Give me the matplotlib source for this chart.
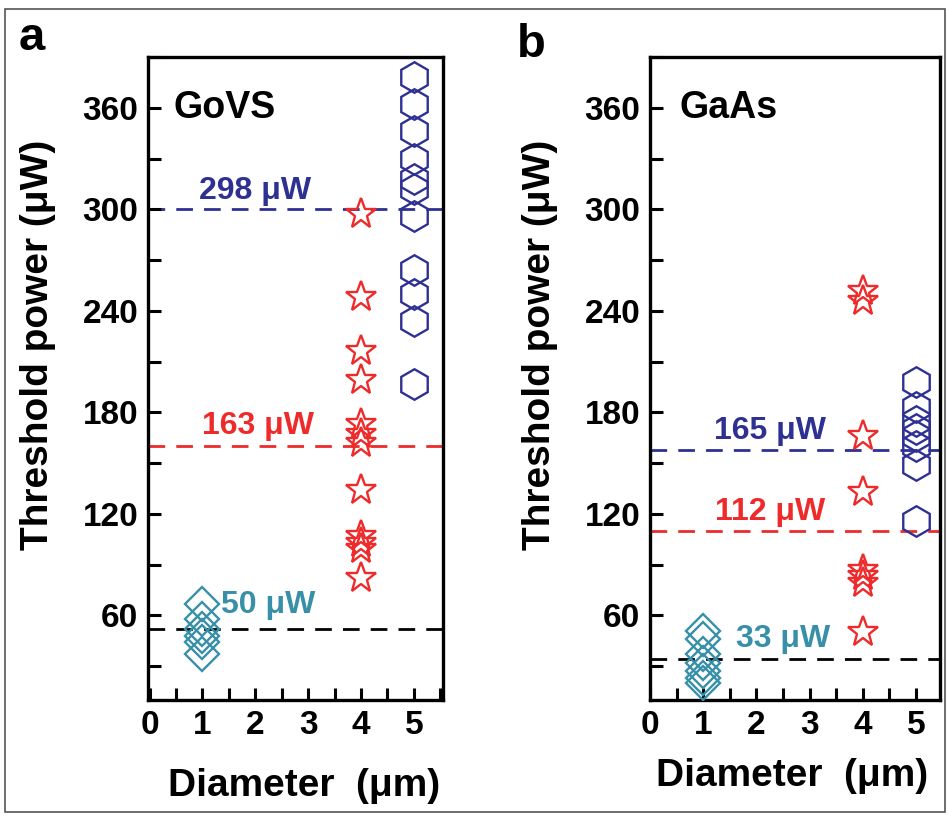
import matplotlib
matplotlib.use("Agg")
import matplotlib.pyplot as plt
from matplotlib.patches import Rectangle
from matplotlib.ticker import MultipleLocator

plt.rcParams['font.family'] = ['Liberation Sans', 'DejaVu Sans']
plt.rcParams['font.weight'] = 'bold'

# panel a: GoVS, threshold power (uW) per diameter
govs_d1 = [67, 58, 52, 48, 44, 37]
govs_d4 = [297, 248, 216, 199, 173, 167, 162, 134, 107, 103, 99, 82]
govs_d5 = [378, 362, 346, 330, 318, 312, 296, 264, 250, 234, 197]
govs_mean = [300, 160, 52]
govs_text = ["298 μW", "163 μW", "50 μW"]

# panel b: GaAs
gaas_d1 = [51, 46, 37, 32, 27, 23, 20]
gaas_d4 = [252, 246, 166, 133, 87, 83, 79, 50]
gaas_d5 = [198, 183, 175, 170, 166, 160, 149, 116]
gaas_mean = [158, 110, 34]
gaas_text = ["165 μW", "112 μW", "33 μW"]

blue = '#2E3192'
red = '#EE2A2A'
teal = '#3790A8'

fig = plt.figure(figsize=(9.48, 8.19), dpi=100)


def panel(rect, xlim, d1, d4, d5, means, texts, text_pos, name, name_pos):
    ax = fig.add_axes(rect)
    line_cols = [blue, red, 'black']
    text_cols = [blue, red, teal]
    for m, c in zip(means, line_cols):
        ax.axhline(m, color=c, lw=2, ls=(0, (6, 4)), zorder=1)
    ax.plot([1] * len(d1), d1, 'D', ms=17, mfc='none', mec=teal, mew=1.7, zorder=3)
    ax.plot([4] * len(d4), d4, '*', ms=23, mfc='none', mec=red, mew=1.7, zorder=3)
    ax.plot([5] * len(d5), d5, 'h', ms=22, mfc='none', mec=blue, mew=1.7, zorder=3)
    for t, (x, y), c in zip(texts, text_pos, text_cols):
        ax.text(x, y, t, color=c, fontsize=23, ha='center', va='center', zorder=2)
    ax.text(name_pos[0], name_pos[1], name, fontsize=27, ha='left', va='center')
    ax.set_xlim(*xlim)
    ax.set_ylim(10, 390)
    ax.set_xticks([0, 1, 2, 3, 4, 5])
    ax.set_yticks([60, 120, 180, 240, 300, 360])
    ax.xaxis.set_minor_locator(MultipleLocator(0.5))
    ax.yaxis.set_minor_locator(MultipleLocator(30))
    ax.tick_params(which='both', direction='in', length=9, width=2.2,
                   labelsize=24, pad=7)
    for s in ax.spines.values():
        s.set_linewidth(2.4)
    return ax


panel([148 / 948, 1 - 700 / 819, 295 / 948, 643 / 819], (-0.03, 5.55),
      govs_d1, govs_d4, govs_d5, govs_mean, govs_text,
      [(2.0, 311), (2.05, 172), (2.25, 66)], "GoVS", (0.45, 360))
panel([650 / 948, 1 - 700 / 819, 290 / 948, 643 / 819], (0, 5.45),
      gaas_d1, gaas_d4, gaas_d5, gaas_mean, gaas_text,
      [(2.25, 169), (2.25, 121), (2.5, 46)], "GaAs", (0.55, 360))

for x, y in [(0.040, 0.579), (0.570, 0.579)]:
    fig.text(x, y, "Threshold power (μW)", rotation=90, fontsize=28,
             ha='center', va='center')
fig.text(0.321, 0.040, "Diameter  (μm)", fontsize=28, ha='center', va='center')
fig.text(0.836, 0.052, "Diameter  (μm)", fontsize=28, ha='center', va='center')

fig.text(0.034, 0.953, "a", fontsize=34, ha='center', va='center')
fig.text(0.560, 0.945, "b", fontsize=34, ha='center', va='center')

fig.patches.append(Rectangle((5 / 948, 1 - 812 / 819), 940 / 948, 803 / 819,
                             transform=fig.transFigure, fill=False,
                             edgecolor='#555555', lw=1.2))

fig.savefig("out.png", dpi=100)
